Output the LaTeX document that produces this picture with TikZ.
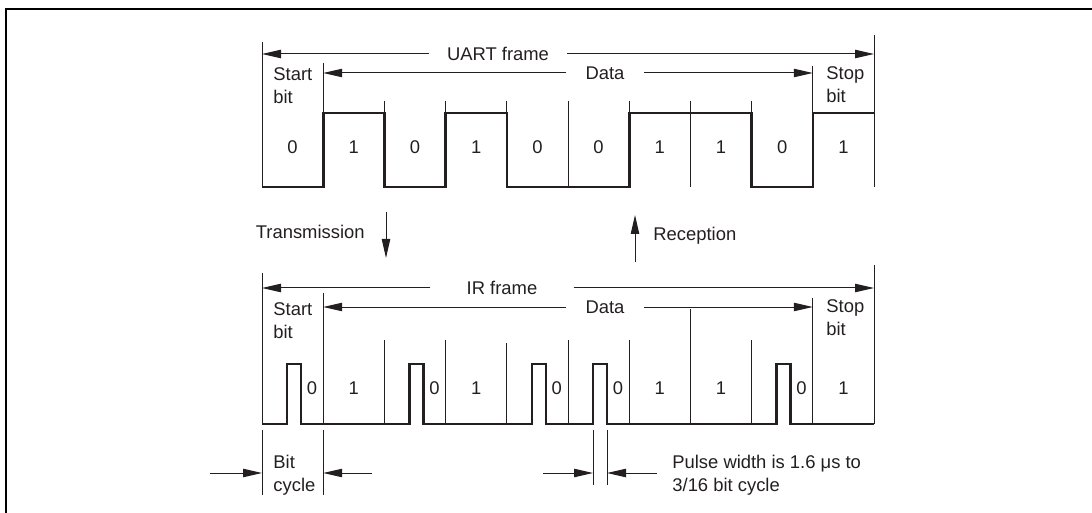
\documentclass[tikz,border=0pt]{standalone}
\usepackage{fontspec}
\setmainfont{Liberation Sans}
\usetikzlibrary{arrows.meta}
\definecolor{ink}{HTML}{231F20}

\tikzset{
  thinline/.style={line width=0.5pt, color=ink},
  signal/.style={line width=1.3pt, color=ink, line join=miter},
  dimarrow/.style={line width=0.5pt, color=ink, -{Triangle[length=9.5pt,width=4.2pt]}},
  lbl/.style={text=ink, font=\fontsize{9.2}{11.5}\selectfont, inner sep=0pt},
  twoline/.style={lbl, align=left, anchor=west},
}

\begin{document}
\begin{tikzpicture}[x=0.5pt,y=-0.5pt]
\useasboundingbox (0,0) rectangle (1092,513);
\draw[line width=1pt] (6,513) -- (6,9) -- (1092,9);

% UART frame
\coordinate (uf-l) at (262,54);
\coordinate (uf-r) at (874,54);
\coordinate (ud-l) at (323.2,73);
\coordinate (ud-r) at (812.8,73);
\node[lbl, inner xsep=9pt] (uart) at (498,54) {UART frame};
\node[lbl, inner xsep=9.5pt] (udata) at (605,73) {Data};
\draw[dimarrow] (uart.west) -- (uf-l);
\draw[dimarrow] (uart.east) -- (uf-r);
\draw[dimarrow] (udata.west) -- (ud-l);
\draw[dimarrow] (udata.east) -- (ud-r);

\node[twoline] (ustart) at (273,86) {Start\\bit};
\node[twoline] (ustop) at (826,85) {Stop\\bit};

\draw[thinline] (262,42) -- (262,187);
\draw[thinline] (874,35) -- (874,187);
\draw[thinline] (323.2,63) -- (323.2,187);
\draw[thinline] (812.8,66) -- (812.8,187);
\foreach \i in {2,...,8}
  \draw[thinline] ({262+61.2*\i},101) -- ({262+61.2*\i},187);

\foreach \b [count=\i from 0] in {0,1,0,1,0,0,1,1,0,1}
  \node[lbl] (ubit\i) at ({292.6+61.2*\i},147) {\b};

\draw[signal] (262,187) -- (323.2,187) -- (323.2,113) -- (384.4,113)
  -- (384.4,187) -- (445.6,187) -- (445.6,113) -- (506.8,113)
  -- (506.8,187) -- (629.2,187) -- (629.2,113) -- (751.6,113)
  -- (751.6,187) -- (812.8,187) -- (812.8,113) -- (874,113);

% transmission / reception
\coordinate (tx-a) at (386,212);
\coordinate (tx-b) at (386,258);
\coordinate (rx-a) at (635,262);
\coordinate (rx-b) at (635,215);
\node[lbl, anchor=east] (tx) at (365,232) {Transmission};
\node[lbl, anchor=west] (rx) at (653,236) {Reception};
\draw[dimarrow] (tx-a) -- (tx-b);
\draw[dimarrow] (rx-a) -- (rx-b);

% IR frame
\coordinate (if-l) at (262,288);
\coordinate (if-r) at (874,288);
\coordinate (id-l) at (323.2,307);
\coordinate (id-r) at (812.8,307);
\node[lbl, inner xsep=18pt] (ir) at (502,288) {IR frame};
\node[lbl, inner xsep=9.5pt] (idata) at (605,307) {Data};
\draw[dimarrow] (ir.west) -- (if-l);
\draw[dimarrow] (ir.east) -- (if-r);
\draw[dimarrow] (idata.west) -- (id-l);
\draw[dimarrow] (idata.east) -- (id-r);

\node[twoline] (istart) at (273,321) {Start\\bit};
\node[twoline] (istop) at (826,318) {Stop\\bit};

\draw[thinline] (262,273) -- (262,424);
\draw[thinline] (874,265) -- (874,424);
\draw[thinline] (323.2,293) -- (323.2,424);
\draw[thinline] (812.8,298) -- (812.8,424);
\foreach \i/\top in {2/340,3/340,4/343,5/340,6/340,7/309,8/340}
  \draw[thinline] ({262+61.2*\i},\top) -- ({262+61.2*\i},424);

\foreach \i in {0,2,4,5,8}
  \node[lbl] (izero\i) at ({312+61.2*\i},388) {0};
\foreach \i in {1,3,6,7,9}
  \node[lbl] (ione\i) at ({292.6+61.2*\i},388) {1};

\draw[signal] (262,424)
  foreach \i in {0,2,4,5,8} { -- ({287+61.2*\i},424) -- ++(0,-60) -- ++(14,0) -- ++(0,60) }
  -- (874,424);

% bit cycle
\coordinate (bc-l) at (262,473);
\coordinate (bc-r) at (323.2,473);
\coordinate (bc-la) at (210,473);
\coordinate (bc-ra) at (372,473);
\draw[thinline] (262,430) -- (262,495);
\draw[thinline] (323.2,430) -- (323.2,495);
\draw[dimarrow] (bc-la) -- (bc-l);
\draw[dimarrow] (bc-ra) -- (bc-r);
\node[twoline] (bitcyc) at (273,475) {Bit\\cycle};

% pulse width
\coordinate (pw-l) at (593,473);
\coordinate (pw-r) at (607,473);
\coordinate (pw-la) at (543,473);
\coordinate (pw-ra) at (657,473);
\draw[thinline] (593,430) -- (593,485);
\draw[thinline] (607,430) -- (607,485);
\draw[dimarrow] (pw-la) -- (pw-l);
\draw[dimarrow] (pw-ra) -- (pw-r);
\node[twoline] (pulse) at (672,475) {Pulse width is 1.6 μs to\\3/16 bit cycle};
\end{tikzpicture}
\end{document}
